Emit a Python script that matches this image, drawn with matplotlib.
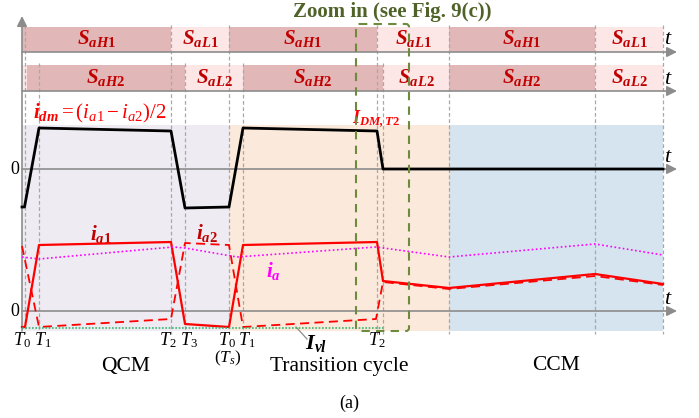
"""
Switching states and phase currents: QCM -> transition cycle -> CCM
"""
import matplotlib.pyplot as plt
from matplotlib.patches import Rectangle, FancyBboxPatch

plt.rcParams['font.family'] = ['Liberation Serif', 'DejaVu Serif']
plt.rcParams['mathtext.fontset'] = 'custom'
plt.rcParams['mathtext.rm'] = 'Liberation Serif'
plt.rcParams['mathtext.it'] = 'Liberation Serif:italic'
plt.rcParams['mathtext.bf'] = 'Liberation Serif:bold'
plt.rcParams['mathtext.bfit'] = 'Liberation Serif:italic:bold'

# --- data (time axis in schematic units, currents relative to each zero line) ---
t_leg1 = [22, 171, 229, 377, 449, 595, 663]
leg1_state = ['H', 'L', 'H', 'L', 'H', 'L']
t_leg2 = [22, 27, 185, 243, 383, 449, 595, 663]
leg2_state = ['L', 'H', 'L', 'H', 'L', 'H', 'L']

modes = ['QCM', 'Transition cycle', 'CCM']
mode_edges = [22, 229, 449, 663]

t_dm = [22, 24.5, 39, 171, 185, 229, 243, 377, 383, 663]
i_dm = [-38, -38, 41, 38, -39, -38, 41, 38, 0, 0]

t_a1 = [22, 25, 39, 171, 185, 229, 243, 377, 383, 449, 595, 663]
i_a1 = [-16, -16, 66, 69, -13, -16, 66, 69, 30, 23, 37, 27]

t_a2 = [22, 39, 171, 185, 229, 243, 376, 383, 449, 595, 663]
i_a2 = [65, -16, -8, 68, 66, -16, -8, 29, 22, 35, 26]

t_a = [22, 39, 173, 185, 237, 376, 449, 595, 663]
i_a = [54, 52, 64, 63, 54, 64, 54, 67, 56]

t_vl = [22, 383]
i_vl = [-17, -17]

t_marks = [24.5, 39, 171, 185, 229, 243, 377]
t_names = ['$T_0$', '$T_1$', '$T_2$', '$T_3$', '$T_0$', '$T_1$', '$T_2$']

# --- layout ---
row1_y, row2_y = 52, 91
dm_zero, a_zero = 169, 311
shade_top, shade_bot = 125, 331

dark_pink = '#E2B7B7'
light_pink = '#FDE6E6'
mode_colors = ['#EEEBF2', '#FBEADB', '#D5E4EE']
gray = '#8C8C8C'

fig = plt.figure(figsize=(6.99, 4.18), dpi=100)
ax = fig.add_axes([0, 0, 1, 1])
ax.set_xlim(0, 699)
ax.set_ylim(418, 0)
ax.axis('off')

# mode shading
for i in range(3):
    ax.add_patch(Rectangle((mode_edges[i], shade_top), mode_edges[i + 1] - mode_edges[i],
                           shade_bot - shade_top, color=mode_colors[i], lw=0, zorder=0))
    ax.text((mode_edges[i] + mode_edges[i + 1]) / 2, 366, modes[i], fontsize=15.5,
            ha='center', va='center')

# switching bars
def bars(t, states, y, h, num):
    for i, s in enumerate(states):
        c = dark_pink if s == 'H' else light_pink
        ax.add_patch(Rectangle((t[i], y - h), t[i + 1] - t[i], h, color=c, lw=0, zorder=1))
        if t[i + 1] - t[i] > 20:
            lbl = r'$\mathbfit{S}_{\mathbfit{a' + s + r'}\mathbf{' + num + '}}$'
            ax.text((t[i] + t[i + 1]) / 2, y - h / 2 - 1, lbl, fontsize=15, color='#C00000',
                    ha='center', va='center', zorder=5)

bars(t_leg1, leg1_state, row1_y, 25, '1')
bars(t_leg2, leg2_state, row2_y, 26, '2')

# dashed time markers
for x in [24.5, 171, 229, 377, 449, 595, 663]:
    ax.plot([x, x], [25, 334], ls=(0, (3, 2)), color='#A8A8A8', lw=0.9, zorder=2)
for x in [39, 185, 243, 383]:
    ax.plot([x, x], [63, 334], ls=(0, (3, 2)), color='#A8A8A8', lw=0.9, zorder=2)

# axes with arrows
arr = dict(arrowstyle='-|>', color=gray, lw=1.2, mutation_scale=15, shrinkA=0, shrinkB=0)
for y in [row1_y, row2_y, dm_zero, a_zero]:
    ax.annotate('', xy=(677, y), xytext=(22, y), arrowprops=arr, zorder=3)
    ax.text(668, y - 12, '$t$', fontsize=16, ha='center', va='center')
ax.annotate('', xy=(22, 16), xytext=(22, 331), arrowprops=arr, zorder=3)
ax.text(19, dm_zero, '0', fontsize=13, ha='right', va='center')
ax.text(19, a_zero, '0', fontsize=13, ha='right', va='center')

# waveforms
ax.plot(t_dm, [dm_zero - v for v in i_dm], color='black', lw=2, zorder=4)
ax.plot(t_a1, [a_zero - v for v in i_a1], color='red', lw=1.6, zorder=4)
ax.plot(t_a2, [a_zero - v for v in i_a2], color='red', lw=1.3, ls=(0, (5, 3)), zorder=4)
ax.plot(t_a, [a_zero - v for v in i_a], color='#FF00FF', lw=1.2, ls=(0, (1, 1.5)), zorder=4)
ax.plot(t_vl, [a_zero - v for v in i_vl], color='#3CB371', lw=1.2, ls=(0, (1, 1)), zorder=4)

# zoom box
ax.add_patch(FancyBboxPatch((356, 24), 53, 307, boxstyle='round,pad=0,rounding_size=3',
                            fill=False, ec='#6E8B3D', lw=1.5, ls=(0, (4, 3)), zorder=6))
ax.text(392, 12, 'Zoom in (see Fig. 9(c))', fontsize=15, fontweight='bold',
        color='#4F6228', ha='center', va='center')

# labels
ax.text(100, 113, r'$\mathbfit{i}_{\mathbfit{dm}}= (i_{a\mathrm{1}} - i_{a\mathrm{2}})/2$',
        fontsize=15, color='red', ha='center', va='center')
ax.text(376, 119, r'$\mathbfit{I}_{\mathbfit{DM,T}\mathbf{2}}$', fontsize=13, color='red',
        ha='center', va='center')
ax.text(101, 234, r'$\mathbfit{i}_{\mathbfit{a}\mathbf{1}}$', fontsize=15, color='#C00000',
        ha='center', va='center')
ax.text(207, 233, r'$\mathbfit{i}_{\mathbfit{a}\mathbf{2}}$', fontsize=15, color='#C00000',
        ha='center', va='center')
ax.text(273, 271, r'$\mathbfit{i}_{\mathbfit{a}}$', fontsize=15, color='#FF00FF',
        ha='center', va='center')
ax.plot([296, 307], [327, 339], color=gray, lw=0.9)
ax.text(316, 344, r'$\mathbfit{I}_{\mathbfit{vl}}$', fontsize=16, ha='center', va='center')

# time labels: pairs of close instants are pushed apart a little
nudge = [-3, 4, -3, 4, -2, 4, 0]
for x, dx, name in zip(t_marks, nudge, t_names):
    ax.text(x + dx, 340, name, fontsize=13, ha='center', va='center')
ax.text(228, 358, '$(T_s)$', fontsize=12.5, ha='center', va='center')
ax.text(349, 403, '(a)', fontsize=13, ha='center', va='center')

fig.savefig('out.png', dpi=100)
